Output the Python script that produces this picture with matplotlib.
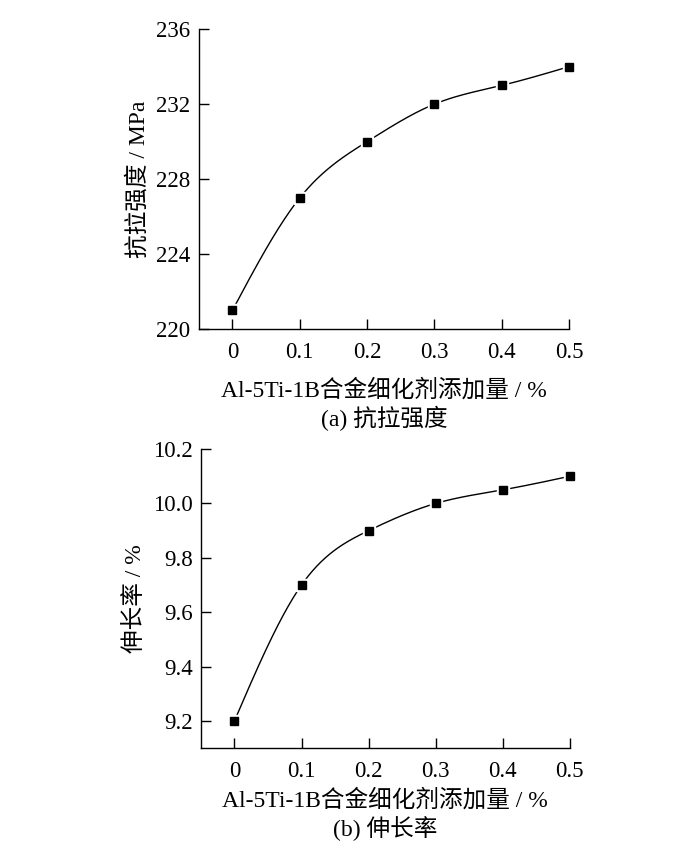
import numpy as np
import matplotlib
matplotlib.use("Agg")
import matplotlib.pyplot as plt

plt.rcParams['font.family'] = ['Liberation Serif', 'Noto Sans CJK SC']
plt.rcParams['axes.unicode_minus'] = False

# --- data ---
additions = [0, 0.1, 0.2, 0.3, 0.4, 0.5]
tensile_strength = [221, 227, 230, 232, 233, 234]
elongation = [9.2, 9.7, 9.9, 10.0, 10.05, 10.1]

x_ticks = [0, 0.1, 0.2, 0.3, 0.4, 0.5]
x_tick_labels = ["0", "0.1", "0.2", "0.3", "0.4", "0.5"]
ts_ticks = [220, 224, 228, 232, 236]
el_ticks = [9.2, 9.4, 9.6, 9.8, 10.0, 10.2]
el_tick_labels = ["9.2", "9.4", "9.6", "9.8", "10.0", "10.2"]

x_label = "Al-5Ti-1B合金细化剂添加量 / %"


def naturalSpline(x, y, n=300):
	"""Natural cubic spline through the points, for a smooth drawn line."""
	x = np.asarray(x, float)
	y = np.asarray(y, float)
	k = len(x)
	h = np.diff(x)
	A = np.zeros((k, k))
	b = np.zeros(k)
	A[0, 0] = A[-1, -1] = 1
	for i in range(1, k - 1):
		A[i, i - 1] = h[i - 1]
		A[i, i] = 2 * (h[i - 1] + h[i])
		A[i, i + 1] = h[i]
		b[i] = 6 * ((y[i + 1] - y[i]) / h[i] - (y[i] - y[i - 1]) / h[i - 1])
	m = np.linalg.solve(A, b)
	xs = np.linspace(x[0], x[-1], n)
	idx = np.clip(np.searchsorted(x, xs) - 1, 0, k - 2)
	x0, x1 = x[idx], x[idx + 1]
	hh = x1 - x0
	t0, t1 = x1 - xs, xs - x0
	ys = (m[idx] * t0 ** 3 + m[idx + 1] * t1 ** 3) / (6 * hh) \
		+ (y[idx] / hh - m[idx] * hh / 6) * t0 + (y[idx + 1] / hh - m[idx + 1] * hh / 6) * t1
	return xs, ys


def drawPanel(ax, y, ylim, yticks, ylabels, ylabel, caption, xpad, cap_off):
	xs, ys = naturalSpline(additions, y)
	ax.plot(xs, ys, color='black', lw=1.0, zorder=2)
	ax.plot(additions, y, 's', ms=9, color='white', mec='white', zorder=3, clip_on=False)
	ax.plot(additions, y, 's', ms=6.2, color='black', mec='black', zorder=4, clip_on=False)
	ax.set_xlim(-0.05, 0.5)
	ax.set_ylim(*ylim)
	ax.set_xticks(x_ticks)
	ax.set_xticklabels(x_tick_labels)
	ax.set_yticks(yticks)
	ax.set_yticklabels(ylabels)
	for s in ['top', 'right']:
		ax.spines[s].set_visible(False)
	for s in ['left', 'bottom']:
		ax.spines[s].set_linewidth(1.0)
	ax.tick_params(direction='in', length=7, width=1.0, labelsize=16.5)
	ax.tick_params(axis='x', pad=9)
	ax.tick_params(axis='y', pad=6)
	ax.set_ylabel(ylabel, fontsize=17, labelpad=5)
	ax.set_xlabel(x_label, fontsize=17, labelpad=xpad)
	ax.annotate(caption, xy=(0.5, 0), xycoords='axes fraction', xytext=(0, -cap_off),
				textcoords='offset points', ha='center', va='center', fontsize=17)


fig = plt.figure(figsize=(7, 8.57), dpi=100)
ax1 = fig.add_axes([0.284, 0.616, 0.529, 0.350])
ax2 = fig.add_axes([0.287, 0.127, 0.527, 0.349])

drawPanel(ax1, tensile_strength, (220, 236), ts_ticks, [str(t) for t in ts_ticks],
		  "抗拉强度 / MPa", "(a) 抗拉强度", 12, 64)
drawPanel(ax2, elongation, (9.1, 10.2), el_ticks, el_tick_labels,
		  "伸长率 / %", "(b) 伸长率", 5, 58)

fig.savefig("out.png", dpi=100)
